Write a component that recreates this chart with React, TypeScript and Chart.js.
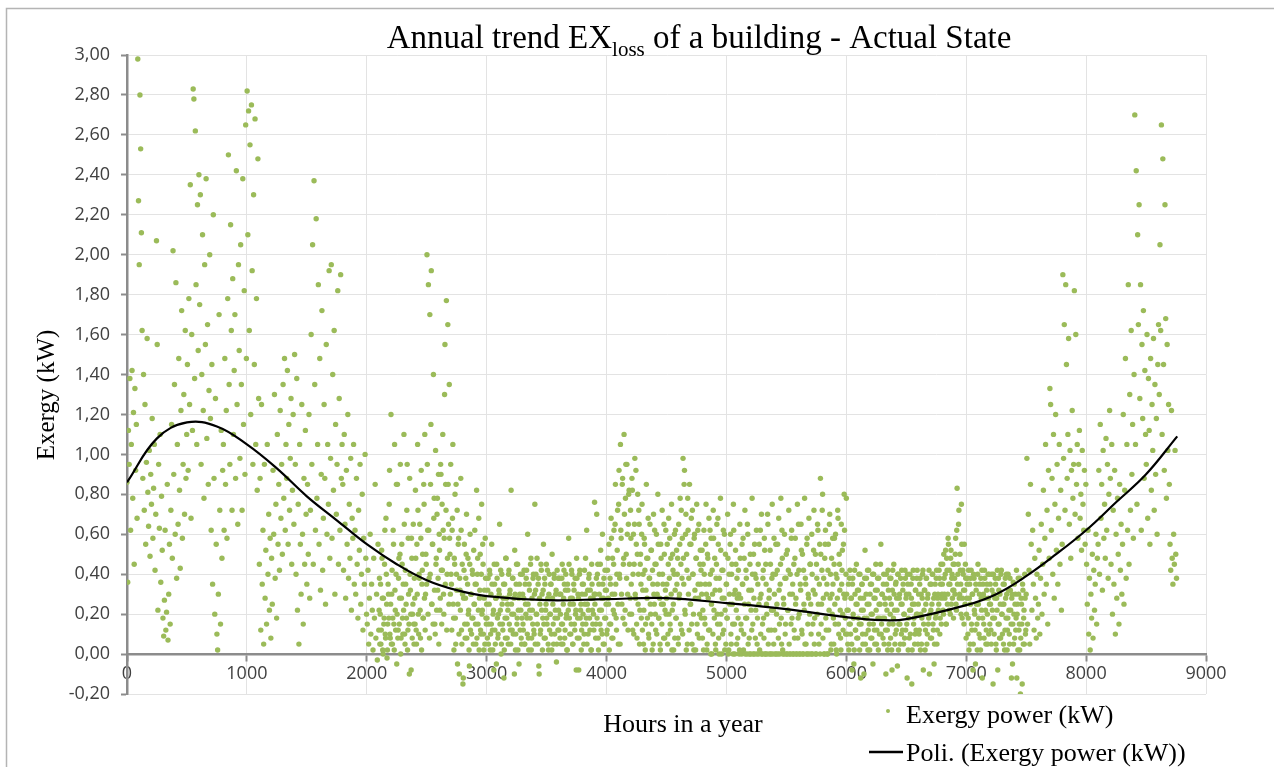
import React, { useEffect, useRef } from 'react';
import { Chart, registerables } from 'chart.js';

Chart.register(...registerables);

const STEP_HOURS = 6;

const exergyPower: number[] = [
  // 0 - 294 h
  0.86,0.36,1.12,0.95,1.38,0.62,1.05,1.42,0.78,1.21,0.45,1.33,0.92,1.15,0.68,2.98,2.27,1.95,2.80,2.53,2.11,1.62,
  0.88,1.40,0.72,1.25,0.55,0.96,1.58,0.81,0.64,1.02,0.49,0.90,0.75,1.18,0.58,0.83,1.05,0.42,0.70,2.07,1.55,0.22,0.95,0.63,1.10,0.36,0.79,0.52,
  // 300 - 594 h
  0.18,0.09,0.27,0.62,0.12,0.21,0.85,0.07,0.30,0.55,0.15,
  0.72,1.15,0.48,2.02,0.90,1.35,0.60,1.86,0.38,1.05,
  0.65,1.48,0.82,0.43,1.22,1.72,0.58,0.95,1.30,0.70,1.62,0.88,1.10,
  1.45,0.92,1.78,1.25,2.35,0.68,1.60,1.12,2.83,2.78,1.38,2.62,1.85,1.05,2.25,1.52,
  // 600 - 894 h
  2.40,1.75,2.30,0.95,1.40,2.10,1.22,0.78,1.95,1.55,2.38,1.08,1.65,0.85,1.32,2.00,1.18,
  0.62,1.45,0.35,2.20,0.88,0.20,1.28,0.55,0.10,0.02,0.30,1.70,0.72,0.15,1.12,0.48,0.92,
  1.05,0.62,1.48,0.85,1.22,0.58,1.78,2.50,1.35,0.95,2.15,1.62,0.72,1.88,1.10,1.42,
  // 900 - 1194 h
  1.70,0.88,2.42,1.25,0.65,1.95,1.52,0.98,2.05,1.35,0.72,2.38,1.15,1.82,0.90,2.65,1.48,
  2.82,2.10,2.72,1.62,2.55,1.20,2.75,1.92,0.95,2.30,1.45,2.68,1.05,1.78,0.82,2.48,1.28,
  0.45,0.88,0.12,1.25,0.35,0.62,0.05,0.95,0.28,0.52,0.15,1.05,0.40,0.70,0.22,0.58,
  // 1200 - 1494 h
  0.08,0.48,0.25,0.92,0.60,1.30,0.38,0.75,0.18,1.10,0.55,0.85,0.42,1.22,0.68,0.95,0.50,
  1.35,0.78,1.48,0.62,1.05,0.88,1.42,0.55,1.15,0.72,0.98,1.28,0.45,0.82,1.20,0.65,1.50,
  0.95,0.40,1.38,0.22,0.75,0.05,1.05,0.55,0.30,1.25,0.60,0.15,0.88,0.45,1.12,0.70,
  // 1500 - 1794 h
  0.35,0.85,0.50,1.20,0.28,0.72,1.60,0.95,2.05,0.45,2.37,1.35,0.62,2.18,0.78,1.05,1.85,
  0.55,1.48,0.32,0.90,1.72,0.42,0.68,1.25,0.88,0.25,1.55,0.60,1.05,0.75,1.92,0.48,0.98,
  1.95,0.58,1.40,0.82,1.62,0.30,1.15,0.70,0.95,1.82,0.45,1.28,0.62,1.90,0.88,1.05,
  // 1800 - 2094 h
  0.85,0.42,1.10,0.65,0.28,0.92,0.55,1.20,0.38,0.75,0.48,0.98,0.22,0.68,0.58,1.05,0.35,
  0.62,0.30,0.88,0.45,0.18,0.72,0.52,0.95,0.25,0.40,0.80,0.12,0.58,0.35,1.00,0.48,0.20,
  0.15,0.42,0.05,0.28,0.60,0.10,0.35,0.22,0.02,0.48,0.18,0.85,0.08,0.30,-0.03,0.55,
  // 2100 - 2394 h
  0.12,0.38,0.20,0.05,0.52,0.28,0.00,0.15,0.45,0.10,0.68,0.25,0.02,0.35,0.18,0.92,0.08,
  1.20,0.30,0.05,0.62,0.15,1.05,0.22,0.40,-0.05,0.85,0.12,0.48,0.28,0.95,0.08,0.55,0.18,
  0.35,1.10,0.10,0.42,0.25,0.72,0.02,0.58,0.15,0.88,0.32,-0.08,0.48,0.20,0.65,0.05,
  // 2400 - 2694 h
  0.28,0.82,0.12,0.55,1.05,0.20,0.40,0.65,0.08,0.92,0.35,0.50,0.18,0.75,1.10,0.30,0.45,
  2.00,0.62,1.85,0.38,1.70,0.85,1.92,0.25,0.55,1.40,0.78,0.15,1.02,0.48,0.70,0.32,0.90,
  0.60,0.22,0.95,0.42,0.75,1.10,0.30,0.58,1.55,0.85,1.77,0.40,1.65,0.65,1.35,0.50,
  // 2700 - 2994 h
  0.95,0.35,0.62,1.05,0.18,0.48,0.80,0.05,0.40,0.72,0.25,0.58,-0.10,0.32,0.88,0.12,0.45,
  -0.15,0.28,0.55,0.08,0.38,0.70,0.15,0.48,0.22,-0.06,0.60,0.30,0.10,0.42,0.18,0.52,0.25,
  0.35,0.05,0.82,0.40,0.15,0.68,0.28,0.50,0.10,0.75,0.22,0.45,0.02,0.32,0.58,0.18,
  // 3000 - 3294 h
  0.25,0.08,0.38,0.15,0.42,0.02,0.30,0.55,0.12,0.20,-0.08,0.35,0.05,0.28,0.45,0.18,0.10,
  0.32,0.65,0.22,0.00,0.40,0.15,0.28,-0.12,0.35,0.08,0.48,0.18,0.25,0.05,0.42,0.30,0.12,
  0.82,0.20,0.38,0.10,0.28,0.52,0.02,0.35,0.15,0.45,0.22,-0.05,0.30,0.40,0.08,0.18,
  // 3300 - 3594 h
  0.30,0.12,0.42,0.05,0.25,0.38,0.18,0.60,0.08,0.35,0.22,0.45,0.02,0.28,0.15,0.40,0.10,
  0.75,0.32,0.20,0.48,0.05,0.38,-0.10,0.25,0.12,0.42,0.30,0.18,0.55,0.08,0.35,0.22,0.45,
  0.15,0.28,0.02,0.40,0.20,0.35,0.10,0.50,0.25,0.05,0.38,0.18,0.30,-0.04,0.42,0.12,
  // 3600 - 3894 h
  0.22,0.38,0.08,0.30,0.15,0.45,0.05,0.28,0.35,0.12,0.40,0.20,0.02,0.32,0.58,0.18,0.25,
  0.10,0.42,0.28,0.05,0.35,0.15,0.38,0.22,0.48,0.08,0.30,-0.08,0.40,0.18,0.25,0.12,0.35,
  0.20,0.05,0.42,0.30,0.15,0.62,0.25,0.10,0.38,0.18,0.32,0.02,0.45,0.22,0.28,0.12,
  // 3900 - 4194 h
  0.76,0.30,0.15,0.70,0.40,0.08,0.35,0.22,0.45,0.12,0.28,0.60,0.05,0.38,0.18,0.32,0.25,
  0.10,0.42,0.28,0.55,0.15,0.35,0.68,0.08,0.48,0.22,0.62,0.30,0.85,0.18,0.40,0.72,0.05,
  0.92,0.38,1.05,0.58,0.25,0.88,0.45,1.10,0.15,0.78,0.50,0.95,0.30,0.65,0.82,0.20,
  // 4200 - 4494 h
  0.72,0.35,0.88,0.12,0.60,0.45,0.98,0.28,0.55,0.08,0.80,0.40,0.65,0.22,0.50,0.18,0.75,
  0.32,0.05,0.58,0.42,0.15,0.85,0.28,0.48,0.10,0.38,0.65,0.20,0.52,0.02,0.35,0.70,0.25,
  0.45,0.12,0.60,0.30,0.80,0.18,0.40,0.05,0.55,0.25,0.72,0.35,0.08,0.50,0.22,0.62,
  // 4500 - 4794 h
  0.28,0.55,0.10,0.68,0.38,0.15,0.48,0.75,0.22,0.42,0.02,0.60,0.32,0.18,0.52,0.40,0.08,
  0.65,0.30,0.78,0.45,0.12,0.58,0.98,0.35,0.92,0.20,0.70,0.50,0.05,0.62,0.38,0.85,0.25,
  0.55,0.15,0.72,0.40,0.02,0.60,0.28,0.48,0.75,0.10,0.35,0.65,0.20,0.52,0.42,0.30,
  // 4800 - 5094 h
  0.08,0.45,0.62,0.18,0.35,0.75,0.02,0.50,0.28,0.68,0.12,0.40,0.58,0.00,0.30,0.72,0.22,
  0.48,0.05,0.38,0.65,0.15,0.55,0.00,0.32,0.78,0.20,0.42,0.10,0.62,0.28,0.02,0.50,0.35,
  0.18,0.70,0.00,0.40,0.25,0.60,0.05,0.45,0.15,0.75,0.30,0.00,0.52,0.22,0.38,0.08,
  // 5100 - 5394 h
  0.42,0.00,0.65,0.28,0.12,0.55,0.35,0.02,0.48,0.72,0.18,0.38,0.00,0.60,0.25,0.08,0.45,
  0.00,0.32,0.78,0.15,0.50,0.00,0.40,0.22,0.62,0.05,0.35,0.00,0.55,0.28,0.10,0.70,0.00,
  0.38,0.18,0.58,0.00,0.45,0.25,0.00,0.65,0.12,0.32,0.52,0.00,0.22,0.75,0.40,0.05,
  // 5400 - 5694 h
  0.30,0.00,0.55,0.20,0.42,0.00,0.68,0.15,0.35,0.78,0.05,0.48,0.00,0.25,0.60,0.10,0.38,
  0.00,0.52,0.22,0.72,0.00,0.40,0.15,0.62,0.30,0.00,0.45,0.08,0.58,0.28,0.00,0.75,0.18,
  0.42,0.00,0.35,0.65,0.12,0.50,0.00,0.25,0.78,0.38,0.05,0.55,0.00,0.30,0.68,0.20,
  // 5700 - 5994 h
  0.45,0.10,0.60,0.00,0.32,0.72,0.18,0.50,0.00,0.38,0.65,0.25,0.05,0.55,0.88,0.15,0.42,
  0.80,0.28,0.00,0.48,0.62,0.12,0.35,0.00,0.55,0.22,0.70,0.40,0.05,0.30,0.58,0.18,0.45,
  0.25,0.60,0.02,0.38,0.72,0.15,0.50,0.32,0.08,0.65,0.42,0.20,0.55,0.80,0.28,0.10,
  // 6000 - 6294 h
  0.78,0.22,0.05,0.35,0.15,0.42,0.10,0.28,-0.08,0.38,0.18,0.02,0.30,0.12,0.45,0.25,0.08,
  0.32,0.15,0.40,-0.12,0.22,0.35,0.05,0.28,0.18,0.52,0.10,0.38,0.25,0.02,0.42,0.15,0.30,
  0.08,0.35,0.20,-0.05,0.40,0.12,0.28,0.45,0.05,0.32,0.18,0.38,0.10,0.25,0.55,0.15,
  // 6300 - 6594 h
  0.30,0.08,0.40,0.18,0.25,-0.10,0.35,0.12,0.42,0.05,0.28,0.20,0.38,0.02,0.32,0.15,0.45,
  0.22,0.10,0.36,0.28,-0.06,0.40,0.15,0.30,0.05,0.25,0.42,0.12,0.35,0.20,0.08,0.38,0.28,
  0.15,0.40,0.02,0.30,0.22,0.10,0.35,-0.15,0.25,0.42,0.18,0.05,0.32,0.12,0.38,0.20,
  // 6600 - 6894 h
  0.25,0.10,0.35,0.02,0.30,0.18,0.40,-0.08,0.22,0.32,0.12,0.38,0.05,0.28,0.15,0.42,0.20,
  0.08,0.35,0.25,0.40,0.12,-0.05,0.30,0.18,0.38,0.05,0.28,0.22,0.42,0.10,0.35,0.15,0.30,
  0.45,0.20,0.38,0.28,0.52,0.15,0.42,0.30,0.55,0.22,0.35,0.48,0.25,0.40,0.32,0.18,
  // 6900 - 7194 h
  0.45,0.30,0.58,0.22,0.83,0.40,0.65,0.28,0.50,0.35,0.75,0.18,0.42,0.32,0.55,0.25,0.38,
  0.20,0.35,0.10,0.42,0.28,0.05,0.38,0.15,0.30,-0.08,0.40,0.22,0.12,0.35,0.25,0.02,0.45,
  0.18,0.30,0.08,0.38,0.22,-0.12,0.35,0.15,0.42,0.28,0.05,0.32,0.20,0.40,0.10,0.25,
  // 7200 - 7494 h
  0.35,0.12,0.40,0.22,-0.15,0.30,0.18,0.38,0.05,0.28,0.42,0.15,0.32,0.08,0.25,0.40,0.20,
  0.10,0.35,0.25,0.02,0.38,0.18,0.30,0.12,0.40,0.22,0.05,0.32,0.15,0.28,-0.05,0.36,0.20,
  0.08,0.30,0.18,-0.12,0.25,0.38,0.12,0.02,-0.20,0.28,0.15,0.35,0.05,0.22,0.40,0.10,
  // 7500 - 7794 h
  0.30,0.98,0.15,0.70,0.42,0.05,0.85,0.55,0.22,0.62,0.35,0.12,0.48,0.28,0.08,0.40,0.18,
  0.25,0.52,0.10,0.38,0.65,0.20,0.45,0.82,0.30,0.58,1.05,0.35,0.72,0.15,0.92,0.48,1.33,
  1.25,0.62,0.88,0.40,1.10,0.28,0.75,1.20,0.52,0.95,0.35,0.68,1.05,0.45,0.82,0.22,
  // 7800 - 8094 h
  0.55,1.90,0.98,1.65,0.72,1.85,1.45,0.88,1.10,1.58,0.65,1.02,0.48,0.92,1.22,0.78,0.95,
  1.82,0.70,1.60,0.85,1.05,0.58,0.95,1.12,0.68,0.80,0.52,1.02,0.75,0.62,0.92,0.55,0.85,
  0.45,0.25,0.62,0.10,0.38,0.02,0.30,0.18,0.50,0.08,0.42,0.22,0.35,0.60,0.15,0.48,
  // 8100 - 8394 h
  0.55,0.92,0.40,1.15,0.68,0.85,0.32,1.02,0.58,0.75,0.48,1.08,0.62,0.95,0.38,0.80,1.22,
  0.88,0.45,1.05,0.20,0.72,0.35,0.92,0.10,0.60,0.28,0.78,0.50,0.15,0.85,0.42,0.65,0.30,
  0.55,1.20,0.25,0.82,1.48,0.38,1.05,0.62,1.85,0.45,1.30,0.72,1.62,0.90,1.15,0.58,
  // 8400 - 8694 h
  1.40,2.70,1.05,2.42,0.75,2.10,1.65,2.25,1.28,1.85,0.62,1.55,1.18,1.72,0.88,1.42,1.10,
  0.95,1.60,0.68,1.38,1.12,0.55,1.48,0.82,1.25,1.02,1.58,0.72,1.35,0.90,1.18,0.60,1.45,
  1.65,1.30,2.05,1.62,2.65,1.10,2.48,1.45,0.92,2.25,1.68,0.78,1.55,1.02,1.25,0.85,
  // 8700 - 8754 h
  0.55,0.42,1.22,0.48,0.35,0.60,0.45,1.02,0.50,0.38,
];

// Extra samples of the dense low band, offset by 3 h (2103 h, 2109 h, ... 7497 h)
const MID_START_HOUR = 2103;
const exergyPowerMid: number[] = [
  // 2100 - 2400 h
  0.22,0.05,0.35,0.12,0.48,0.02,0.28,0.18,0.62,0.08, 0.40,-0.02,0.15,0.30,0.75,0.10,0.25,0.05,0.42,0.18,
  0.55,0.02,0.32,0.12,0.85,0.20,0.08,0.38,0.15,0.50, 0.00,0.28,0.45,0.10,0.22,0.65,0.05,0.35,0.18,0.95,
  0.12,0.30,-0.10,0.40,0.20,0.58,0.08,0.25,0.15,0.38,
  // 2400 - 2700 h
  0.15,0.48,0.05,0.30,0.72,0.10,0.38,0.22,0.58,0.02, 0.42,0.18,0.85,0.28,0.12,0.50,0.35,0.95,0.20,0.62,
  0.08,0.40,1.15,0.25,0.55,0.15,0.68,0.32,0.10,0.45, 0.22,0.78,0.38,0.05,0.52,0.28,0.90,0.15,0.42,0.62,
  0.20,1.30,0.35,0.72,0.12,0.48,0.85,0.25,0.58,0.30,
  // 2700 - 3000 h
  0.40,0.12,0.68,0.25,0.02,0.45,0.18,0.85,0.32,-0.05, 0.55,0.10,0.38,0.22,0.62,0.05,0.30,-0.12,0.42,0.15,
  0.28,0.50,0.08,0.35,0.20,0.02,0.45,0.12,0.30,0.18, 0.40,0.05,0.25,0.62,0.15,0.35,0.08,0.48,0.22,0.02,
  0.32,0.12,0.40,0.20,0.55,0.10,0.28,0.05,0.38,0.15,
  // 3000 - 3300 h
  0.18,0.32,0.05,0.25,0.40,0.10,0.15,0.35,0.02,0.22, 0.45,0.12,0.28,-0.05,0.38,0.08,0.20,0.30,0.15,0.42,
  0.05,0.25,0.12,0.35,0.02,0.18,0.48,0.28,0.08,0.22, 0.40,0.15,0.32,0.05,0.25,0.12,0.38,0.20,-0.10,0.30,
  0.10,0.45,0.18,0.02,0.28,0.35,0.12,0.22,0.05,0.40,
  // 3300 - 3600 h
  0.15,0.28,0.05,0.35,0.20,0.42,0.10,0.25,0.02,0.32, 0.18,0.48,0.08,0.22,0.38,0.12,0.30,0.05,0.40,0.20,
  0.15,0.35,-0.06,0.28,0.10,0.45,0.22,0.02,0.32,0.15, 0.38,0.08,0.25,0.18,0.42,0.05,0.30,0.12,0.20,0.35,
  0.02,0.28,0.15,0.40,0.10,0.22,0.32,0.05,0.18,0.38,
  // 3600 - 3900 h
  0.12,0.30,0.20,0.05,0.38,0.15,0.25,0.42,0.08,0.32, 0.18,0.02,0.35,0.22,0.45,0.10,0.28,0.15,0.40,0.05,
  0.25,0.32,0.12,0.20,-0.08,0.38,0.18,0.28,0.08,0.42, 0.22,0.02,0.30,0.15,0.35,0.10,0.25,0.48,0.18,0.05,
  0.32,0.22,0.40,0.12,0.28,0.02,0.35,0.15,0.20,0.30,
  // 3900 - 4200 h
  0.25,0.08,0.38,0.18,0.45,0.02,0.30,0.15,0.52,0.22, 0.10,0.35,0.28,0.05,0.42,0.18,0.32,0.12,0.48,0.25,
  0.02,0.38,0.15,0.58,0.30,0.08,0.45,0.20,0.65,0.35, 0.12,0.52,0.25,0.75,0.40,0.05,0.62,0.30,0.85,0.18,
  0.48,0.70,0.22,0.95,0.38,0.60,0.12,0.80,0.45,0.28,
  // 4200 - 4500 h
  0.58,0.20,0.82,0.40,0.10,0.65,0.30,0.92,0.15,0.50, 0.25,0.72,0.05,0.45,0.35,0.60,0.12,0.40,0.22,0.55,
  0.02,0.32,0.48,0.18,0.68,0.08,0.38,0.25,0.52,0.15, 0.42,0.05,0.30,0.62,0.20,0.45,0.10,0.35,0.55,0.18,
  0.28,0.02,0.48,0.15,0.40,0.25,0.65,0.08,0.32,0.20,
  // 4500 - 4800 h
  0.35,0.05,0.45,0.20,0.58,0.12,0.30,0.02,0.50,0.25, 0.40,0.08,0.62,0.18,0.35,0.48,0.05,0.28,0.55,0.15,
  0.72,0.38,0.10,0.48,0.85,0.22,0.60,0.02,0.42,0.78, 0.30,0.12,0.55,0.25,0.68,0.05,0.40,0.20,0.58,0.32,
  0.02,0.48,0.15,0.62,0.28,0.08,0.45,0.35,0.18,0.52,
  // 4800 - 5100 h
  0.22,0.02,0.40,0.15,0.55,0.30,0.05,0.48,0.12,0.35, 0.62,0.00,0.25,0.42,0.10,0.58,0.18,0.32,0.02,0.45,
  0.20,0.68,0.08,0.38,0.15,0.52,0.00,0.28,0.42,0.12, 0.60,0.22,0.05,0.35,0.18,0.48,0.02,0.30,0.55,0.10,
  0.40,0.25,0.00,0.62,0.15,0.32,0.45,0.05,0.28,0.18,
  // 5100 - 5400 h
  0.30,0.02,0.48,0.15,0.00,0.35,0.58,0.10,0.25,0.00, 0.42,0.18,0.65,0.05,0.32,0.00,0.50,0.22,0.12,0.40,
  0.00,0.28,0.55,0.08,0.38,0.00,0.18,0.45,0.25,0.02, 0.62,0.30,0.00,0.15,0.42,0.08,0.52,0.00,0.35,0.20,
  0.70,0.05,0.28,0.00,0.45,0.12,0.38,0.00,0.22,0.58,
  // 5400 - 5700 h
  0.12,0.40,0.00,0.25,0.55,0.08,0.32,0.00,0.45,0.18, 0.62,0.02,0.28,0.00,0.38,0.15,0.50,0.00,0.22,0.42,
  0.05,0.30,0.00,0.58,0.18,0.35,0.00,0.12,0.48,0.25, 0.00,0.40,0.08,0.65,0.20,0.00,0.32,0.52,0.10,0.00,
  0.42,0.22,0.05,0.35,0.00,0.58,0.15,0.28,0.00,0.45,
  // 5700 - 6000 h
  0.25,0.00,0.40,0.15,0.52,0.05,0.30,0.00,0.45,0.20, 0.62,0.10,0.35,0.00,0.50,0.25,0.72,0.08,0.38,0.00,
  0.55,0.18,0.30,0.00,0.42,0.12,0.65,0.28,0.02,0.48, 0.20,0.35,0.05,0.58,0.15,0.40,0.00,0.28,0.68,0.10,
  0.45,0.22,0.02,0.35,0.52,0.12,0.30,0.62,0.18,0.40,
  // 6000 - 6300 h
  0.30,0.10,0.22,0.02,0.38,0.15,0.28,0.05,0.35,0.20, -0.05,0.42,0.12,0.25,0.08,0.32,0.18,0.40,0.02,0.28,
  0.15,0.35,0.10,0.22,-0.10,0.38,0.05,0.30,0.18,0.42, 0.12,0.25,0.02,0.35,0.20,0.08,0.40,0.15,0.28,0.05,
  0.32,0.22,0.12,0.38,0.02,0.25,0.18,0.45,0.10,0.30,
  // 6300 - 6600 h
  0.18,0.35,0.05,0.28,0.12,0.40,0.22,0.02,0.32,0.15, 0.38,0.08,0.25,-0.08,0.42,0.18,0.30,0.05,0.35,0.12,
  0.22,0.40,0.02,0.28,0.15,0.38,0.10,0.25,0.32,0.05, 0.20,0.42,0.12,0.30,-0.12,0.35,0.18,0.08,0.40,0.22,
  0.28,0.02,0.38,0.15,0.25,0.10,0.32,0.20,0.42,0.05,
  // 6600 - 6900 h
  0.30,0.12,0.38,0.20,0.05,0.28,0.42,0.15,0.32,0.02, 0.25,0.38,0.10,0.30,0.18,-0.10,0.35,0.22,0.08,0.40,
  0.15,0.28,0.05,0.35,0.20,0.42,0.12,0.30,0.25,0.38, 0.18,0.45,0.28,0.35,0.22,0.50,0.30,0.40,0.15,0.48,
  0.25,0.58,0.35,0.42,0.20,0.52,0.38,0.28,0.45,0.32,
  // 6900 - 7200 h
  0.38,0.50,0.25,0.62,0.35,0.45,0.72,0.30,0.42,0.20, 0.55,0.28,0.40,0.15,0.32,0.45,0.08,0.28,0.38,0.18,
  0.02,0.35,0.25,0.42,0.12,0.30,0.05,0.38,0.20,-0.05, 0.32,0.15,0.40,0.25,0.10,0.35,0.02,0.28,0.42,0.18,
  0.30,0.08,0.38,0.22,0.12,0.35,0.05,0.28,0.40,0.15,
  // 7200 - 7500 h
  0.25,0.05,0.32,0.18,0.40,0.10,0.28,0.35,0.02,0.22, -0.08,0.38,0.15,0.30,0.08,0.42,0.20,0.25,0.05,0.35,
  0.12,0.28,0.40,0.02,0.18,0.32,0.10,0.38,0.22,-0.12, 0.30,0.15,0.05,0.35,0.25,0.12,0.42,0.20,0.02,0.30,
  0.15,0.38,0.08,0.25,-0.15,0.32,0.18,0.05,0.28,0.12,
];

// Polynomial trend line
const trendHours = [0, 250, 500, 750, 1000, 1250, 1500, 1750, 2000, 2250, 2500, 2750, 3000, 3500, 4000, 4500, 5000, 5500, 6000, 6300, 6500, 7000, 7250, 7500, 7750, 8000, 8250, 8500, 8760];
const trendValues = [0.86, 1.08, 1.16, 1.14, 1.05, 0.93, 0.79, 0.67, 0.55, 0.45, 0.37, 0.32, 0.29, 0.27, 0.275, 0.28, 0.255, 0.225, 0.185, 0.17, 0.175, 0.245, 0.30, 0.39, 0.50, 0.62, 0.76, 0.90, 1.09];

const TITLE_MAIN = 'Annual trend EX';
const TITLE_SUB = 'loss';
const TITLE_REST = ' of a building - Actual State';
const X_TITLE = 'Hours in a year';
const Y_TITLE = 'Exergy (kW)';
const SERIES_LABEL = 'Exergy power (kW)';
const TREND_LABEL = 'Poli. (Exergy power (kW))';

const X_MIN = 0, X_MAX = 9000, X_STEP = 1000;
const Y_MIN = -0.2, Y_MAX = 3.0, Y_STEP = 0.2;

const GREEN = '#9bbb59';
const AXIS_GRAY = '#8c8c8c';
const GRID_GRAY = '#e3e3e3';
const SERIF = '"Liberation Serif", "Times New Roman", serif';
const SANS = '"Open Sans", "Liberation Sans", sans-serif';

const decorPlugin = {
  id: 'decor',
  beforeDraw(chart: any) {
    const ctx = chart.ctx as CanvasRenderingContext2D;
    ctx.save();
    ctx.fillStyle = '#ffffff';
    ctx.fillRect(0, 0, chart.width, chart.height);
    ctx.strokeStyle = '#b4b4b4';
    ctx.lineWidth = 1.5;
    ctx.beginPath();
    ctx.moveTo(6.5, chart.height + 2);
    ctx.lineTo(6.5, 8.5);
    ctx.lineTo(chart.width + 2, 8.5);
    ctx.stroke();
    ctx.restore();
  },
  afterDraw(chart: any) {
    const ctx = chart.ctx as CanvasRenderingContext2D;
    ctx.save();
    ctx.fillStyle = '#000000';
    // Title with subscript
    const mainFont = '33px ' + SERIF;
    const subFont = '21px ' + SERIF;
    ctx.font = mainFont;
    const w1 = ctx.measureText(TITLE_MAIN).width;
    const w3 = ctx.measureText(TITLE_REST).width;
    ctx.font = subFont;
    const w2 = ctx.measureText(TITLE_SUB).width;
    const total = w1 + w2 + w3;
    let tx = 699 - total / 2;
    const base = 48;
    ctx.textBaseline = 'alphabetic';
    ctx.textAlign = 'left';
    ctx.font = mainFont;
    ctx.fillText(TITLE_MAIN, tx, base);
    tx += w1;
    ctx.font = subFont;
    ctx.fillText(TITLE_SUB, tx, base + 8);
    tx += w2;
    ctx.font = mainFont;
    ctx.fillText(TITLE_REST, tx, base);

    // Axis titles
    ctx.font = '26px ' + SERIF;
    ctx.textAlign = 'center';
    ctx.textBaseline = 'middle';
    ctx.fillText(X_TITLE, 683, 725);
    ctx.save();
    ctx.translate(47, 395);
    ctx.rotate(-Math.PI / 2);
    ctx.font = '25px ' + SERIF;
    ctx.fillText(Y_TITLE, 0, 0);
    ctx.restore();

    // Legend
    ctx.fillStyle = GREEN;
    ctx.beginPath();
    ctx.arc(888, 711, 2, 0, Math.PI * 2);
    ctx.fill();
    ctx.strokeStyle = '#000000';
    ctx.lineWidth = 2.5;
    ctx.beginPath();
    ctx.moveTo(869, 752);
    ctx.lineTo(903, 752);
    ctx.stroke();
    ctx.fillStyle = '#000000';
    ctx.font = '26px ' + SERIF;
    ctx.textAlign = 'left';
    ctx.textBaseline = 'alphabetic';
    ctx.fillText(SERIES_LABEL, 906, 723);
    ctx.fillText(TREND_LABEL, 906, 761);
    ctx.restore();
  },
};

export default function App() {
  const canvasRef = useRef<HTMLCanvasElement | null>(null);

  useEffect(() => {
    document.body.style.margin = '0';
    const canvas = canvasRef.current;
    if (!canvas) return;
    const points = exergyPower
      .map((v, i) => ({ x: i * STEP_HOURS, y: v }))
      .concat(exergyPowerMid.map((v, i) => ({ x: MID_START_HOUR + i * STEP_HOURS, y: v })));
    const trend = trendHours.map((h, i) => ({ x: h, y: trendValues[i] }));

    const chart = new Chart(canvas, {
      type: 'scatter',
      data: {
        datasets: [
          {
            type: 'line',
            label: TREND_LABEL,
            data: trend,
            borderColor: '#000000',
            borderWidth: 2.2,
            pointRadius: 0,
            tension: 0.4,
            fill: false,
            order: 0,
          } as any,
          {
            type: 'scatter',
            label: SERIES_LABEL,
            data: points,
            pointRadius: 2.7,
            pointBackgroundColor: GREEN,
            backgroundColor: GREEN,
            pointBorderWidth: 0,
            borderWidth: 0,
            order: 1,
          } as any,
        ],
      },
      options: {
        animation: false,
        responsive: false,
        devicePixelRatio: 1,
        layout: { padding: { left: 0, right: 68, top: 55, bottom: 73 } },
        plugins: {
          legend: { display: false },
          title: { display: false },
          tooltip: { enabled: false },
        },
        scales: {
          x: {
            type: 'linear',
            min: X_MIN,
            max: X_MAX,
            position: { y: 0 } as any,
            afterFit: (s: any) => { s.height = 0; },
            ticks: {
              stepSize: X_STEP,
              maxRotation: 0,
              autoSkip: false,
              color: '#404040',
              font: { family: SANS, size: 18 },
              padding: 3,
              callback: (v: any) => String(v),
            },
            grid: { color: GRID_GRAY, lineWidth: 1, tickColor: AXIS_GRAY, tickLength: 6, tickWidth: 2 } as any,
            border: { color: AXIS_GRAY, width: 2.5 },
          },
          y: {
            type: 'linear',
            min: Y_MIN,
            max: Y_MAX,
            afterFit: (s: any) => { s.width = 127; },
            ticks: {
              stepSize: Y_STEP,
              autoSkip: false,
              color: '#404040',
              font: { family: SANS, size: 18 },
              padding: 11,
              callback: (v: any) => Number(v).toFixed(2).replace('.', ','),
            },
            grid: { color: GRID_GRAY, lineWidth: 1, tickColor: AXIS_GRAY, tickLength: 6, tickWidth: 2 } as any,
            border: { color: AXIS_GRAY, width: 2.5 },
          },
        },
      } as any,
      plugins: [decorPlugin],
    });
    return () => chart.destroy();
  }, []);

  return (
    <div style={{ width: 1274, height: 767, position: 'relative', overflow: 'hidden', background: '#fff' }}>
      <canvas ref={canvasRef} width={1274} height={767} style={{ width: 1274, height: 767, display: 'block' }} />
    </div>
  );
}
